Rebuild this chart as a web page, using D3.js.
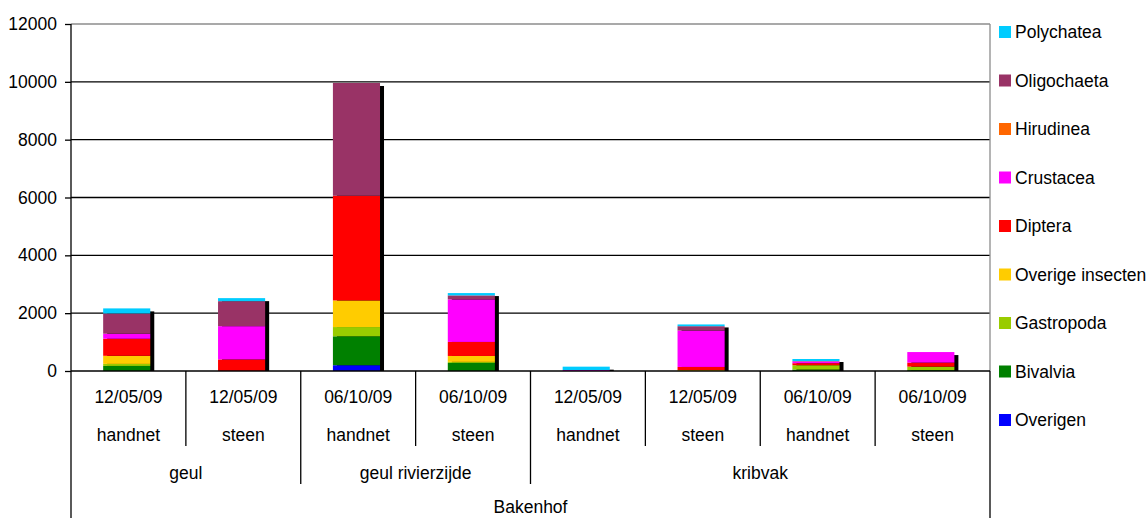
<!DOCTYPE html>
<html>
<head>
<meta charset="utf-8">
<script src="https://cdn.jsdelivr.net/npm/d3@7/dist/d3.min.js"></script>
<style>
  html, body { margin: 0; padding: 0; background: #fff; }
  svg { display: block; font-family: "Liberation Sans", Arial, sans-serif; }
</style>
</head>
<body>
<svg id="chart" width="1148" height="518"></svg>
<script>
// Sample categories: date / method / location / site
const dates   = ["12/05/09", "12/05/09", "06/10/09", "06/10/09", "12/05/09", "12/05/09", "06/10/09", "06/10/09"];
const methods = ["handnet", "steen", "handnet", "steen", "handnet", "steen", "handnet", "steen"];
const groups  = ["geul", "geul", "geul rivierzijde", "geul rivierzijde", "kribvak", "kribvak", "kribvak", "kribvak"];
const site    = "Bakenhof";

// Taxon groups, stacked from bottom to top
const seriesNames = ["Overigen", "Bivalvia", "Gastropoda", "Overige insecten", "Diptera",
                     "Crustacea", "Hirudinea", "Oligochaeta", "Polychatea"];
const seriesColors = ["#0000FF", "#008000", "#99CC00", "#FFCC00", "#FF0000",
                      "#FF00FF", "#FF6600", "#993366", "#00CCFF"];

// Counts per sample
const overigen        = [0,    0,    200,  0,    0,   0,    0,   0];
const bivalvia        = [175,  0,    1000, 280,  0,   0,    50,  30];
const gastropoda      = [70,   0,    320,  35,   0,   0,    150, 120];
const overigeInsecten = [280,  0,    920,  205,  0,   35,   0,   0];
const diptera         = [590,  400,  3620, 485,  0,   105,  70,  140];
const crustacea       = [175,  1150, 0,    1470, 35,  1260, 60,  365];
const hirudinea       = [0,    0,    0,    0,    0,   0,    0,   0];
const oligochaeta     = [700,  865,  3900, 140,  0,   150,  15,  0];
const polychatea      = [175,  105,  0,    80,   115, 60,   70,  0];

const seriesValues = [overigen, bivalvia, gastropoda, overigeInsecten, diptera,
                      crustacea, hirudinea, oligochaeta, polychatea];

const yTicks = [0, 2000, 4000, 6000, 8000, 10000, 12000];

const svg = d3.select("#chart");
const plotLeft = 71, plotRight = 990, plotTop = 24, plotBottom = 371;
const fontSize = 17.5;

const idx = d3.range(dates.length);
const x = d3.scaleBand().domain(idx).range([plotLeft, plotRight]).paddingInner(0).paddingOuter(0);
const y = d3.scaleLinear().domain([0, 12000]).range([plotBottom, plotTop]);

// Table for the stack
const rows = idx.map(i => {
  const r = { i };
  seriesNames.forEach((n, s) => r[n] = seriesValues[s][i]);
  return r;
});
const stacked = d3.stack().keys(seriesNames)(rows);
const totals = idx.map(i => d3.sum(seriesValues, v => v[i]));

// Horizontal gridlines
svg.append("g").selectAll("line").data(yTicks.filter(t => t > 0)).join("line")
  .attr("x1", plotLeft).attr("x2", plotRight)
  .attr("y1", d => y(d)).attr("y2", d => y(d))
  .attr("stroke", d => d === 12000 ? "#8c8c8c" : "#000")
  .attr("stroke-width", 1.3);

// Plot-area right border
svg.append("line").attr("x1", plotRight).attr("x2", plotRight).attr("y1", plotTop).attr("y2", plotBottom)
  .attr("stroke", "#8c8c8c").attr("stroke-width", 1.3);

const bw = x.bandwidth() * 0.41;
const bx = i => x(i) + x.bandwidth() * 0.28;

// Drop shadow behind each bar
svg.append("g").selectAll("rect").data(idx).join("rect")
  .attr("x", i => bx(i) + 4)
  .attr("y", i => y(totals[i]) + 3)
  .attr("width", bw)
  .attr("height", i => Math.max(0, plotBottom - (y(totals[i]) + 3)))
  .attr("fill", "#000");

// Stacked segments
svg.append("g").selectAll("g").data(stacked).join("g")
  .attr("fill", (d, s) => seriesColors[s])
  .selectAll("rect").data(d => d).join("rect")
  .attr("x", d => bx(d.data.i))
  .attr("y", d => y(d[1]))
  .attr("width", bw)
  .attr("height", d => Math.max(0, y(d[0]) - y(d[1])));

// Y axis
const yAxis = d3.axisLeft(y).tickValues(yTicks).tickSize(6).tickSizeOuter(0).tickFormat(d3.format("d"));
const gy = svg.append("g").attr("transform", `translate(${plotLeft},0)`).call(yAxis);
gy.select(".domain").remove();
gy.selectAll(".tick line").attr("stroke", "#000").attr("stroke-width", 1.3);
gy.selectAll(".tick text").attr("x", -14).attr("font-size", fontSize)
  .attr("font-family", "Liberation Sans, Arial, sans-serif").attr("fill", "#000");

svg.append("line").attr("x1", plotLeft).attr("x2", plotLeft).attr("y1", plotTop).attr("y2", 518)
  .attr("stroke", "#000").attr("stroke-width", 1.3);

// X axis baseline
svg.append("line").attr("x1", plotLeft).attr("x2", plotRight).attr("y1", plotBottom).attr("y2", plotBottom)
  .attr("stroke", "#000").attr("stroke-width", 1.5);
svg.append("line").attr("x1", plotRight).attr("x2", plotRight).attr("y1", plotBottom).attr("y2", 518)
  .attr("stroke", "#000").attr("stroke-width", 1.3);

// Category separators: between samples and between locations
const ax = svg.append("g");
idx.slice(1).forEach(i => {
  const isGroupEdge = groups[i] !== groups[i - 1];
  ax.append("line").attr("x1", x(i)).attr("x2", x(i))
    .attr("y1", plotBottom).attr("y2", isGroupEdge ? 484 : 446)
    .attr("stroke", "#000").attr("stroke-width", 1.3);
});

const label = (tx, ty, t) => ax.append("text").attr("x", tx).attr("y", ty)
  .attr("text-anchor", "middle").attr("dominant-baseline", "central")
  .attr("font-size", fontSize).attr("fill", "#000").text(t);

idx.forEach(i => {
  const cx = x(i) + x.bandwidth() / 2;
  label(cx, 397, dates[i]);
  label(cx, 435, methods[i]);
});

// Location labels centered across their samples
const groupNames = Array.from(new Set(groups));
groupNames.forEach(g => {
  const members = idx.filter(i => groups[i] === g);
  const x0 = x(members[0]), x1 = x(members[members.length - 1]) + x.bandwidth();
  label((x0 + x1) / 2, 473, g);
});
label((plotLeft + plotRight) / 2, 507, site);

// Legend, top series first
const legend = svg.append("g");
const order = seriesNames.map((n, s) => s).reverse();
order.forEach((s, k) => {
  const cy = 32 + k * 48.5;
  legend.append("rect").attr("x", 999).attr("y", cy - 6).attr("width", 12).attr("height", 12)
    .attr("fill", seriesColors[s]);
  legend.append("text").attr("x", 1015).attr("y", cy).attr("dominant-baseline", "central")
    .attr("font-size", fontSize).attr("fill", "#000").text(seriesNames[s]);
});
</script>
</body>
</html>
